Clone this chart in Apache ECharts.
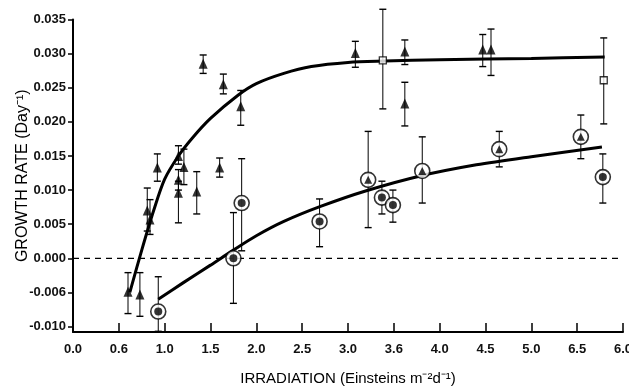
<!DOCTYPE html>
<html>
<head>
<meta charset="utf-8">
<script src="https://cdn.jsdelivr.net/npm/echarts@6/dist/echarts.min.js"></script>
<style>html,body{margin:0;padding:0;background:#fff}#c{width:629px;height:388px}</style>
</head>
<body>
<div id="c"></div>
<script>
// ---- tick labels ----
const xTickLabels = ['0.0','0.6','1.0','1.5','2.0','2.5','3.0','3.6','4.0','4.5','5.0','6.5','6.0'];
const yTickValues = [-0.010,-0.005,0.000,0.005,0.010,0.015,0.020,0.025,0.030,0.035];
const yTickLabels = ['-0.010','-0.006','0.000','0.005','0.010','0.015','0.020','0.025','0.030','0.035'];

// ---- filled triangles ----
const triX  = [0.60, 0.73, 0.81, 0.84, 0.92, 1.15, 1.21, 1.15, 1.15, 1.35, 1.42, 1.60, 1.64, 1.83, 3.08, 3.62, 3.62, 4.47, 4.56];
const triY  = [-0.0049,-0.0053,0.0070,0.0057,0.0133,0.0150,0.0134,0.0115,0.0096,0.0098,0.0285,0.0133,0.0255,0.0223,0.0301,0.0303,0.0227,0.0306,0.0306];
const triLo = [-0.0081,-0.0085,0.0040,0.0035,0.0113,0.0138,0.0108,0.0100,0.0052,0.0065,0.0271,0.0119,0.0241,0.0195,0.0280,0.0284,0.0194,0.0281,0.0268];
const triHi = [-0.0021,-0.0021,0.0103,0.0086,0.0153,0.0165,0.0160,0.0130,0.0113,0.0127,0.0298,0.0147,0.0270,0.0246,0.0318,0.0320,0.0258,0.0328,0.0336];

// ---- open squares ----
const sqX  = [3.38, 5.79];
const sqY  = [0.0290, 0.0261];
const sqLo = [0.0219, 0.0197];
const sqHi = [0.0365, 0.0323];

// ---- circled dots ----
const cdX  = [0.93, 1.75, 1.84, 2.69, 3.37, 3.49, 5.78];
const cdY  = [-0.0078, 0.0000, 0.0081, 0.0054, 0.0089, 0.0078, 0.0119];
const cdLo = [-0.0107,-0.0066, 0.0011, 0.0017, 0.0065, 0.0053, 0.0081];
const cdHi = [-0.0027, 0.0067, 0.0146, 0.0087, 0.0113, 0.0100, 0.0153];

// ---- circled triangles ----
const ctX  = [3.22, 3.81, 4.65, 5.54];
const ctY  = [0.0115, 0.0128, 0.0160, 0.0178];
const ctLo = [0.0045, 0.0081, 0.0134, 0.0146];
const ctHi = [0.0186, 0.0178, 0.0186, 0.0210];

// ---- fitted curves ----
const upperCurveX = [0.62, 0.75, 0.88, 1.00, 1.15, 1.30, 1.50, 1.80, 2.00, 2.30, 2.60, 3.00, 3.40, 4.00, 5.00, 5.80];
const upperCurveY = [-0.0050, 0.0012, 0.0070, 0.0116, 0.0150, 0.0176, 0.0205, 0.0239, 0.0256, 0.0271, 0.0281, 0.0287, 0.0289, 0.0291, 0.0293, 0.0295];
const lowerCurveX = [0.93, 1.20, 1.50, 1.75, 2.00, 2.30, 2.70, 3.20, 3.80, 4.40, 5.00, 5.77];
const lowerCurveY = [-0.0060, -0.0036, -0.0010, 0.0012, 0.0033, 0.0054, 0.0076, 0.0099, 0.0121, 0.0137, 0.0149, 0.0163];

const zeroLineX = [0, 6];
const zeroLineY = [0, 0];

const zip = (a, b) => a.map((v, i) => [v, b[i]]);
const zip3 = (a, b, c) => a.map((v, i) => [v, b[i], c[i]]);

const FONT = '"Liberation Sans",Arial,sans-serif';

function errRender(params, api) {
  const x = api.value(0), lo = api.value(1), hi = api.value(2);
  const a = api.coord([x, hi]), b = api.coord([x, lo]);
  const w = 3.5;
  const st = {stroke: '#000', lineWidth: 1};
  return {type: 'group', children: [
    {type: 'line', shape: {x1: a[0], y1: a[1], x2: b[0], y2: b[1]}, style: st},
    {type: 'line', shape: {x1: a[0]-w, y1: a[1], x2: a[0]+w, y2: a[1]}, style: {stroke:'#000', lineWidth: 1.4}},
    {type: 'line', shape: {x1: b[0]-w, y1: b[1], x2: b[0]+w, y2: b[1]}, style: {stroke:'#000', lineWidth: 1.4}}
  ]};
}

const errData = [].concat(zip3(triX, triLo, triHi), zip3(sqX, sqLo, sqHi), zip3(cdX, cdLo, cdHi), zip3(ctX, ctLo, ctHi));

const chart = echarts.init(document.getElementById('c'), null, {renderer: 'canvas'});
chart.setOption({
  animation: false,
  backgroundColor: '#fff',
  grid: {left: 73, right: 6, top: 19.5, bottom: 56, containLabel: false, outerBoundsMode: 'none'},
  xAxis: {
    type: 'value', min: 0, max: 6, interval: 0.5,
    name: 'IRRADIATION (Einsteins m⁻²d⁻¹)', nameLocation: 'middle', nameGap: 39, nameMoveOverlap: false,
    nameTextStyle: {fontFamily: FONT, fontSize: 15, color: '#000'},
    axisLine: {onZero: false, lineStyle: {color: '#000', width: 2}},
    axisTick: {inside: true, length: 9, lineStyle: {color: '#000', width: 1.5}},
    axisLabel: {fontFamily: FONT, fontSize: 13, fontWeight: 'bold', color: '#111', margin: 11,
      formatter: v => xTickLabels[Math.round(v / 0.5)]},
    splitLine: {show: false}
  },
  yAxis: {
    type: 'value', min: -0.0108, max: 0.035,
    name: 'GROWTH RATE (Day⁻¹)', nameLocation: 'middle', nameGap: 42, nameRotate: 90, nameMoveOverlap: false,
    nameTextStyle: {fontFamily: FONT, fontSize: 16, color: '#000'},
    axisLine: {show: true, onZero: false, lineStyle: {color: '#000', width: 2}},
    axisTick: {show: true, inside: false, length: 5, customValues: yTickValues, lineStyle: {color: '#000', width: 1.5}},
    axisLabel: {fontFamily: FONT, fontSize: 13, fontWeight: 'bold', color: '#111', margin: 7, customValues: yTickValues,
      formatter: v => { const i = yTickValues.findIndex(t => Math.abs(t - v) < 1e-6); return i >= 0 ? yTickLabels[i] : ''; }},
    splitLine: {show: false}
  },
  series: [
    {type: 'line', data: zip(zeroLineX, zeroLineY), symbol: 'none', silent: true,
      lineStyle: {color: '#000', width: 1.2, type: [6, 5]}, z: 1},
    {type: 'line', data: zip(upperCurveX, upperCurveY), symbol: 'none', smooth: 0.3,
      lineStyle: {color: '#000', width: 3}, z: 2},
    {type: 'line', data: zip(lowerCurveX, lowerCurveY), symbol: 'none', smooth: 0.3,
      lineStyle: {color: '#000', width: 3}, z: 2},
    {type: 'custom', data: errData, renderItem: errRender, encode: {x: 0, y: [1, 2]}, z: 3},
    {type: 'scatter', data: zip(triX, triY), symbol: 'triangle', symbolSize: [9, 10],
      itemStyle: {color: '#000'}, z: 5},
    {type: 'scatter', data: zip(sqX, sqY), symbol: 'rect', symbolSize: 7,
      itemStyle: {color: '#fff', borderColor: '#000', borderWidth: 1.3}, z: 5},
    {type: 'scatter', data: zip(cdX, cdY), symbol: 'circle', symbolSize: 15,
      itemStyle: {color: '#fff', borderColor: '#000', borderWidth: 1.6}, z: 5},
    {type: 'scatter', data: zip(cdX, cdY), symbol: 'circle', symbolSize: 8,
      itemStyle: {color: '#000'}, z: 6},
    {type: 'scatter', data: zip(ctX, ctY), symbol: 'circle', symbolSize: 15,
      itemStyle: {color: '#fff', borderColor: '#000', borderWidth: 1.6}, z: 5},
    {type: 'scatter', data: zip(ctX, ctY), symbol: 'triangle', symbolSize: [8, 8],
      itemStyle: {color: '#000'}, z: 6}
  ]
});
</script>
</body>
</html>
